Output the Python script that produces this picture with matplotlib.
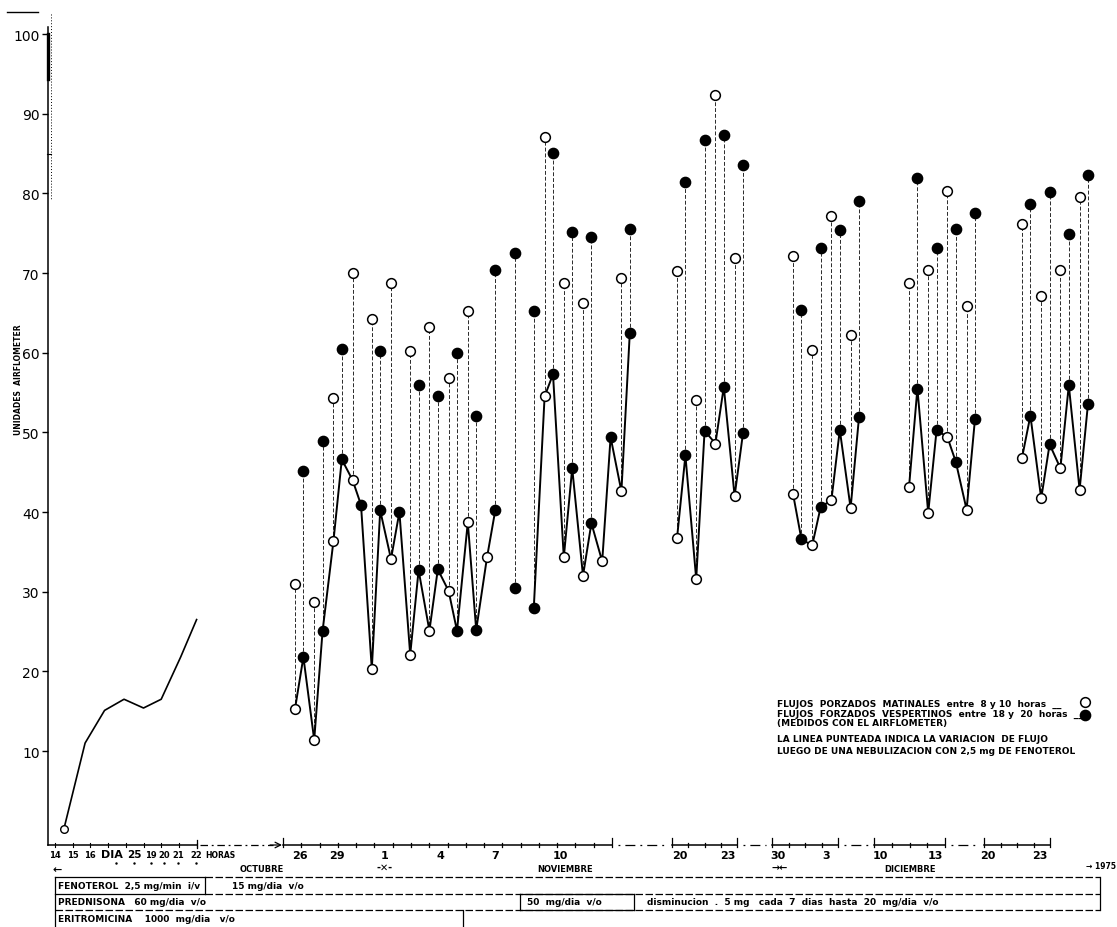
import numpy as np
import matplotlib.pyplot as plt

nan = np.nan

# 25 de octubre: lecturas por hora
hours = [14.5, 15.7, 16.8, 17.9, 19.0, 20.0, 21.1, 22.0]
hour_vals = [0.2, 11.0, 15.1, 16.5, 15.4, 16.5, 21.8, 26.5]

# dias contados desde el 26 de octubre (0 = 26 oct, 6 = 1 nov, 36 = 1 dic)
days = list(range(0, 18)) + [25, 26, 27, 28, 35, 36, 37, 38,
                             45, 46, 47, 48, 55, 56, 57, 58]
# flujo matinal (circulo blanco) basal y tras nebulizacion
am_base = [15.3, 11.4, 36.3, 44.0, 20.3, 34.1, 22.1, 25.1, 30.1, 38.7, 34.3, nan,
           nan, 54.5, 34.3, 32.0, 33.8, 42.6,
           36.7, 31.6, 48.6, 42.0,
           42.3, 35.8, 41.5, 40.5,
           43.1, 39.9, 49.4, 40.3,
           46.8, 41.7, 45.5, 42.8]
am_post = [31.0, 28.7, 54.3, 70.0, 64.2, 68.7, 60.2, 63.2, 56.8, 65.2, nan, nan,
           nan, 87.1, 68.8, 66.2, nan, 69.4,
           70.3, 54.0, 92.4, 71.9,
           72.1, 60.3, 77.1, 62.2,
           68.8, 70.4, 80.3, 65.8,
           76.2, 67.1, 70.4, 79.5]
# flujo vespertino (circulo negro) basal y tras nebulizacion
pm_base = [21.8, 25.1, 46.6, 40.9, 40.2, 40.0, 32.7, 32.8, 25.1, 25.2, 40.3, 30.5,
           28.0, 57.3, 45.5, 38.6, 49.4, 62.5,
           47.1, 50.2, 55.7, 49.9,
           36.6, 40.6, 50.3, 51.9,
           55.5, 50.3, 46.3, 51.7,
           52.1, 48.5, 55.9, 53.6]
pm_post = [45.1, 48.9, 60.5, nan, 60.2, nan, 55.9, 54.5, 60.0, 52.0, 70.4, 72.5,
           65.2, 85.1, 75.1, 74.5, nan, 75.5,
           81.4, 86.7, 87.3, 83.6,
           65.4, 73.2, 75.4, 79.0,
           81.9, 73.1, 75.5, 77.5,
           78.6, 80.2, 74.9, 82.3]
# tramos unidos por la linea continua
line_runs = [(0, 10), (12, 17), (25, 28), (35, 38), (45, 48), (55, 58)]

date_labels = ['26', '29', '1', '4', '7', '10', '20', '23', '30', '3', '10', '13', '20', '23']
hour_labels = ['14', '15', '16', '19', '20', '21', '22']

# ---- layout ----
W, H = 1117, 928
DAY_PX = 19.2
SEGMENTS = [(0, 17, 287.8), (25, 28, 669.8), (35, 38, 785.8),
            (45, 48, 901.8), (55, 58, 1014.8)]
AM_H, PM_H = 9.0, 19.5
Y_ZERO, Y_UNIT = 831.7, 7.967
AX_L, AX_TOP, AXIS_Y = 48, 28, 846
NARROW = ['Liberation Sans Narrow', 'DejaVu Sans']

# eje de fechas dibujado a mano: (inicio, fin, divisiones) y posicion de cada rotulo
AXIS_SEGS = [(283, 612, 18), (672, 737, 4), (772, 838, 4), (874, 945, 4), (984, 1050, 4)]
DATE_X = [300, 337, 385, 440, 495, 560, 680, 728, 778, 826, 880, 935, 988, 1040]
HOUR_LABEL_X = [55, 73, 90, 151, 164, 178, 196]


def day_x(t):
    for first, last, x0 in SEGMENTS:
        if first <= t < last + 1:
            return x0 + (t - first) * DAY_PX
    raise ValueError(t)


def hour_x(h):
    return 55 + (h - 14) * 17.7


fig = plt.figure(figsize=(W / 100, H / 100), dpi=100)
ax = fig.add_axes([AX_L / W, 1 - AXIS_Y / H, 1 - AX_L / W, (AXIS_Y - AX_TOP) / H])
ax.set_xlim(AX_L, W)
ax.set_ylim((Y_ZERO - AXIS_Y) / Y_UNIT, (Y_ZERO - AX_TOP) / Y_UNIT)
ax.patch.set_visible(False)
for s in ['top', 'right', 'bottom']:
    ax.spines[s].set_visible(False)
ax.spines['left'].set_linewidth(1.1)
ax.set_xticks([])
ax.set_yticks(range(10, 101, 10))
ax.tick_params(axis='y', direction='out', length=4, width=1, pad=2, labelsize=10)
for lab in ax.get_yticklabels():
    lab.set_family(NARROW)

dash = dict(color='#2a2a2a', lw=0.7, ls=(0, (4, 2)), zorder=1)
open_m = dict(marker='o', ms=7, mfc='white', mec='black', mew=1.1, ls='none', zorder=4)
fill_m = dict(marker='o', ms=7.4, mfc='black', mec='black', mew=1, ls='none', zorder=4)

# curva del dia 25
hx = [hour_x(h) for h in hours]
ax.plot(hx, hour_vals, color='black', lw=1.2, zorder=2)
ax.plot(hx[0], hour_vals[0], marker='o', ms=5.5, mfc='white', mec='black', mew=1, zorder=4)

# variacion tras la nebulizacion (lineas punteadas)
for d, ab, ap, pb, pp in zip(days, am_base, am_post, pm_base, pm_post):
    xa, xp = day_x(d + AM_H / 24), day_x(d + PM_H / 24)
    if not np.isnan(ap):
        ax.plot([xa, xa], [ab, ap], **dash)
        ax.plot(xa, ap, **open_m)
    if not np.isnan(pp):
        ax.plot([xp, xp], [pb, pp], **dash)
        ax.plot(xp, pp, **fill_m)

# flujos basales unidos
for first, last in line_runs:
    xs, ys = [], []
    for d, ab, pb in zip(days, am_base, pm_base):
        if first <= d <= last:
            if not np.isnan(ab):
                xs.append(day_x(d + AM_H / 24))
                ys.append(ab)
            if not np.isnan(pb):
                xs.append(day_x(d + PM_H / 24))
                ys.append(pb)
    ax.plot(xs, ys, color='black', lw=1.4, zorder=2)

for d, ab, pb in zip(days, am_base, pm_base):
    if not np.isnan(ab):
        ax.plot(day_x(d + AM_H / 24), ab, **open_m)
    if not np.isnan(pb):
        ax.plot(day_x(d + PM_H / 24), pb, **fill_m)

# ---- eje de tiempo, leyenda y tabla (coordenadas de pixel) ----
deco = fig.add_axes([0, 0, 1, 1])
deco.set_xlim(0, W)
deco.set_ylim(H, 0)
deco.axis('off')

lbl = dict(family=NARROW, weight='bold', color='black', ha='center', va='center')

# marcas sueltas del papel
deco.plot([7, 38], [13, 13], color='black', lw=1)
deco.plot([AX_L, AX_L], [35, 80], color='black', lw=2.4)
deco.plot([51, 51], [15, 200], color='black', lw=0.7, ls=(0, (1, 2)))
deco.plot([47, 51], [155, 155], color='black', lw=0.8)

fig.text(19 / W, 1 - 380 / H, 'UNIDADES  AIRFLOMETER', rotation=90, ha='center',
         va='center', fontsize=5.5, family=NARROW, weight='bold')

# horas del dia 25
deco.plot([AX_L, hour_x(22)], [AXIS_Y, AXIS_Y], color='black', lw=1.1)
for h in range(14, 23):
    deco.plot([hour_x(h)] * 2, [AXIS_Y - 2, AXIS_Y + 2], color='black', lw=0.8)
deco.plot([hour_x(22)] * 2, [AXIS_Y - 5, AXIS_Y + 3], color='black', lw=0.9)
for x, t in zip(HOUR_LABEL_X, hour_labels):
    deco.text(x, AXIS_Y + 10, t, fontsize=6, **lbl)
deco.text(112, AXIS_Y + 9, 'DIA', fontsize=8, **lbl)
deco.text(134, AXIS_Y + 9, '25', fontsize=7.5, **lbl)
deco.text(205, AXIS_Y + 10, 'HORAS', fontsize=5.5, family=NARROW,
          weight='bold', ha='left', va='center')
for x in [116, 134, 151, 164, 178, 196]:
    deco.plot(x, AXIS_Y + 18, marker='.', ms=1.5, color='black')

deco.plot([hour_x(22) + 3, 273], [AXIS_Y, AXIS_Y], color='black', lw=0.9,
          ls=(0, (6, 3, 1.5, 3)))
deco.annotate('', xy=(282, AXIS_Y), xytext=(270, AXIS_Y),
              arrowprops=dict(arrowstyle='->', lw=0.9, color='black',
                              shrinkA=0, shrinkB=0))

# tramos de fechas
prev_end = None
for x0, x1, n in AXIS_SEGS:
    deco.plot([x0, x1], [AXIS_Y, AXIS_Y], color='black', lw=1.1)
    step = (x1 - x0) / n
    for k in range(n + 1):
        xk = x0 + k * step
        top = AXIS_Y - 7 if k in (0, n) else AXIS_Y - 2.5
        deco.plot([xk, xk], [top, AXIS_Y + 2], color='black', lw=0.9)
    if prev_end is not None:
        deco.plot([prev_end + 6, x0 - 6], [AXIS_Y, AXIS_Y], color='black', lw=0.9,
                  ls=(0, (1.5, 4, 8, 4)))
    prev_end = x1

for x, t in zip(DATE_X, date_labels):
    deco.text(x, AXIS_Y + 10, t, fontsize=8, **lbl)

MONTH_Y = AXIS_Y + 24
deco.text(57, MONTH_Y, '\u2190', fontsize=8, **lbl)
deco.text(262, MONTH_Y, 'OCTUBRE', fontsize=6, **lbl)
deco.text(385, MONTH_Y - 2, '-\u2715-', fontsize=7, **lbl)
deco.text(565, MONTH_Y, 'NOVIEMBRE', fontsize=6, **lbl)
deco.text(780, MONTH_Y - 2, '\u2192\u2190', fontsize=7, **lbl)
deco.text(910, MONTH_Y, 'DICIEMBRE', fontsize=6, **lbl)
deco.text(1116, MONTH_Y - 3, '\u2192 1975', fontsize=5.5, family=NARROW, weight='bold',
          ha='right', va='center')

# leyenda
leg_x = 777
leg_lines = [(704, 'FLUJOS  PORZADOS  MATINALES  entre  8 y 10  horas  __'),
             (714, 'FLUJOS  FORZADOS  VESPERTINOS  entre  18 y  20  horas  __'),
             (724, '(MEDIDOS CON EL AIRFLOMETER)'),
             (740, 'LA LINEA PUNTEADA INDICA LA VARIACION  DE FLUJO'),
             (752, 'LUEGO DE UNA NEBULIZACION CON 2,5 mg DE FENOTEROL')]
for y, t in leg_lines:
    deco.text(leg_x, y, t, fontsize=6.5, family=NARROW, weight='bold',
              ha='left', va='center')
deco.plot(1085, 703, marker='o', ms=7, mfc='white', mec='black', mew=1.1)
deco.plot(1085, 716, marker='o', ms=7.4, mfc='black', mec='black')

# tabla de tratamiento
T0, RH, R_END = 878, 16.5, 1100
tline = dict(color='black', lw=0.9)
tdash = dict(color='black', lw=0.9, ls=(0, (6, 2)))
deco.plot([55, 55], [T0, H], **tline)
deco.plot([55, 205], [T0, T0], **tline)
deco.plot([205, R_END], [T0, T0], **tdash)
deco.plot([205, 205], [T0, T0 + RH], **tline)
deco.plot([55, 205], [T0 + RH, T0 + RH], **tline)
deco.plot([205, R_END], [T0 + RH, T0 + RH], **tdash)
deco.plot([R_END, R_END], [T0, T0 + 2 * RH], **tline)
deco.plot([55, R_END], [T0 + 2 * RH, T0 + 2 * RH], **tdash)
deco.plot([520, 520], [T0 + RH, T0 + 2 * RH], **tline)
deco.plot([634, 634], [T0 + RH, T0 + 2 * RH], **tline)
deco.plot([520, 634], [T0 + RH, T0 + RH], **tline)
deco.plot([520, 634], [T0 + 2 * RH, T0 + 2 * RH], **tline)
deco.plot([463, 463], [T0 + 2 * RH, H], **tline)

row = dict(fontsize=6.5, family=NARROW, weight='bold', ha='left', va='center')
deco.text(58, T0 + RH / 2, 'FENOTEROL  2,5 mg/min  i/v', **row)
deco.text(232, T0 + RH / 2, '15 mg/dia  v/o', **row)
deco.text(58, T0 + 1.5 * RH, 'PREDNISONA   60 mg/dia  v/o', **row)
deco.text(527, T0 + 1.5 * RH, '50  mg/dia  v/o', **row)
deco.text(647, T0 + 1.5 * RH, 'disminucion  .  5 mg   cada  7  dias  hasta  20  mg/dia  v/o', **row)
deco.text(58, T0 + 2.5 * RH, 'ERITROMICINA    1000  mg/dia   v/o', **row)

fig.savefig('out.png', dpi=100)
